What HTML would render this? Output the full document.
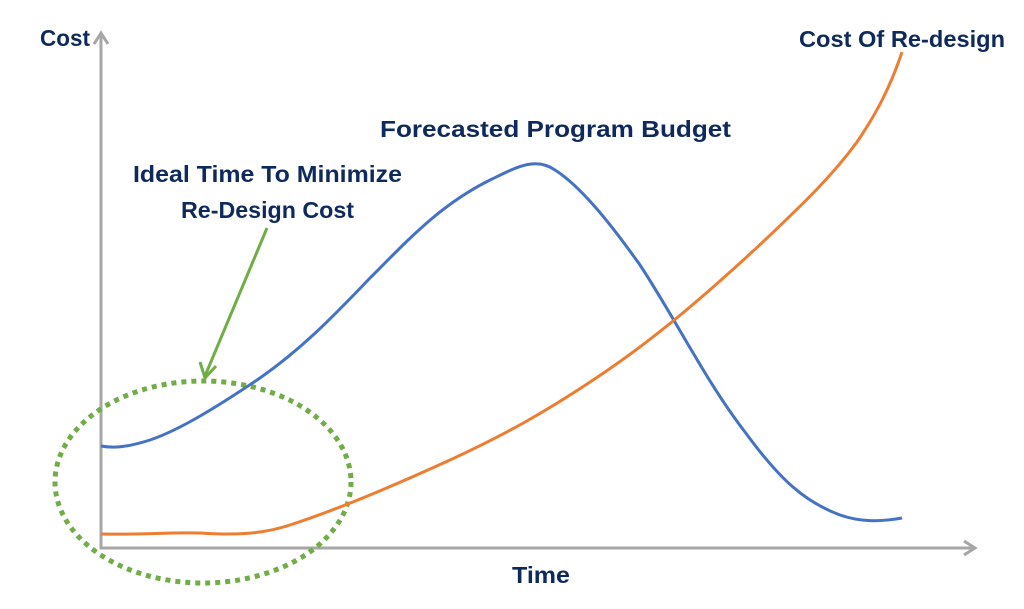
<!DOCTYPE html>
<html><head><style>html,body{margin:0;padding:0;background:#fff}svg{display:block}</style></head>
<body>
<svg width="1024" height="609" viewBox="0 0 1024 609" xmlns="http://www.w3.org/2000/svg">
<g stroke="#a6a6a6" stroke-width="3" fill="none">
<line x1="101" y1="36" x2="101" y2="549"/>
<line x1="100" y1="548" x2="974" y2="548"/>
<polyline points="94,44 101,33 108,44"/>
<polyline points="964,541 975,548 964,555"/>
</g>
<ellipse cx="203" cy="482" rx="148" ry="101" fill="none" stroke="#70ad47" stroke-width="5" stroke-dasharray="5 5"/>
<g stroke="#70ad47" stroke-width="3" fill="none">
<line x1="267" y1="228" x2="205" y2="376"/>
<polyline points="200,362 205,378 216,366"/>
</g>
<path d="M101,446 C112,448 125,448 150,440 C180,430 220,405 260,378 C300,350 330,320 370,278 C410,238 440,205 490,180 C515,168 535,156 555,170 C580,186 608,220 640,265 C675,318 705,380 745,432 C780,480 805,502 840,515 C860,522 880,522 902,518" fill="none" stroke="#4472c4" stroke-width="3"/>
<path d="M101,534 C140,535 170,532 200,533 C230,535 260,535 290,525 C330,512 380,492 450,460 C500,437 545,413 605,372 C655,338 705,296 765,240 C805,202 832,176 857,142 C876,114 890,88 902,52" fill="none" stroke="#ed7d31" stroke-width="3"/>
<g font-family="Liberation Sans, sans-serif" font-weight="bold" font-size="23" fill="#0e2a5c">
<text x="40" y="46" textLength="50" lengthAdjust="spacingAndGlyphs">Cost</text>
<text x="799" y="47" textLength="206" lengthAdjust="spacingAndGlyphs">Cost Of Re-design</text>
<text x="380" y="137" textLength="351" lengthAdjust="spacingAndGlyphs">Forecasted Program Budget</text>
<text x="133" y="182" textLength="269" lengthAdjust="spacingAndGlyphs">Ideal Time To Minimize</text>
<text x="181" y="218" textLength="173" lengthAdjust="spacingAndGlyphs">Re-Design Cost</text>
<text x="512" y="583" textLength="58" lengthAdjust="spacingAndGlyphs">Time</text>
</g>
</svg>
</body></html>
